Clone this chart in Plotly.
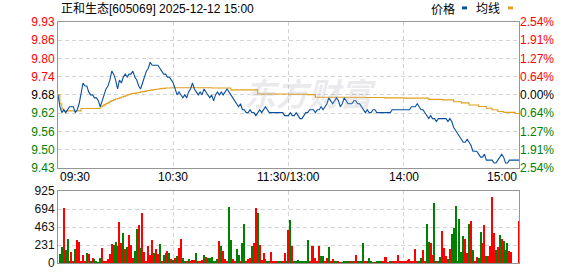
import plotly.graph_objects as go

# ---------------- data ----------------
title_text = "正和生态[605069] 2025-12-12 15:00"
prev_close = 9.68
max_pct = 2.54

price_tick_labels = ["9.43", "9.50", "9.56", "9.62", "9.68", "9.74", "9.80", "9.86", "9.93"]
pct_tick_labels = ["2.54%", "1.91%", "1.27%", "0.64%", "0.00%", "0.64%", "1.27%", "1.91%", "2.54%"]
pct_tick_steps = [-4, -3, -2, -1, 0, 1, 2, 3, 4]
vol_tick_vals = [0, 231, 463, 694, 925]
vol_max = 925
time_tick_minutes = [0, 60, 120, 180, 240]
time_tick_labels = ["09:30", "10:30", "11:30/13:00", "14:00", "15:00"]

price = [
    9.68, 9.64, 9.62, 9.63, 9.62, 9.63, 9.64, 9.64, 9.64, 9.62,
    9.63, 9.65, 9.69, 9.72, 9.71, 9.71, 9.69, 9.68, 9.68, 9.67,
    9.67, 9.66, 9.64, 9.66, 9.68, 9.70, 9.71, 9.73, 9.76, 9.75,
    9.73, 9.70, 9.73, 9.72, 9.74, 9.75, 9.74, 9.75, 9.75, 9.76,
    9.74, 9.73, 9.71, 9.70, 9.72, 9.74, 9.76, 9.77, 9.79, 9.78,
    9.78, 9.78, 9.78, 9.77, 9.76, 9.75, 9.75, 9.74, 9.74, 9.73,
    9.72, 9.70, 9.68, 9.69, 9.68, 9.67, 9.68, 9.67, 9.69, 9.70,
    9.72, 9.70, 9.69, 9.68, 9.69, 9.68, 9.70, 9.69, 9.68, 9.67,
    9.68, 9.66, 9.68, 9.69, 9.68, 9.69, 9.68, 9.69, 9.70, 9.69,
    9.68, 9.67, 9.66, 9.65, 9.64, 9.65, 9.63, 9.63, 9.62, 9.62,
    9.63, 9.62, 9.62, 9.61, 9.62, 9.63, 9.62, 9.63, 9.64, 9.63,
    9.62, 9.62, 9.62, 9.62, 9.62, 9.62, 9.62, 9.62, 9.61, 9.61,
    9.61, 9.62, 9.61, 9.61, 9.62, 9.61, 9.60, 9.60, 9.61, 9.62,
    9.62, 9.63, 9.63, 9.63, 9.62, 9.63, 9.63, 9.64, 9.63, 9.64,
    9.65, 9.67, 9.66, 9.65, 9.66, 9.67, 9.66, 9.64, 9.65, 9.67,
    9.66, 9.65, 9.65, 9.65, 9.66, 9.66, 9.65, 9.65, 9.64, 9.63,
    9.62, 9.63, 9.62, 9.62, 9.63, 9.63, 9.62, 9.62, 9.62, 9.62,
    9.62, 9.62, 9.62, 9.62, 9.63, 9.63, 9.63, 9.63, 9.63, 9.63,
    9.63, 9.63, 9.63, 9.63, 9.64, 9.64, 9.64, 9.65, 9.64, 9.63,
    9.63, 9.62, 9.61, 9.60, 9.61, 9.60, 9.60, 9.59, 9.60, 9.60,
    9.60, 9.60, 9.60, 9.59, 9.60, 9.59, 9.57, 9.56, 9.55, 9.54,
    9.53, 9.52, 9.52, 9.53, 9.52, 9.51, 9.49, 9.49, 9.49, 9.48,
    9.47, 9.47, 9.48, 9.46, 9.46, 9.46, 9.46, 9.45, 9.45, 9.46,
    9.47, 9.48, 9.47, 9.45, 9.45, 9.46, 9.46, 9.46, 9.46, 9.46,
    9.46,
]

avg_price = [
    9.680, 9.650, 9.632, 9.626, 9.626, 9.626, 9.626, 9.626, 9.626, 9.626,
    9.626, 9.626, 9.634, 9.634, 9.634, 9.634, 9.634, 9.634, 9.634, 9.634,
    9.634, 9.634, 9.640, 9.643, 9.647, 9.651, 9.654, 9.658, 9.661, 9.664,
    9.666, 9.668, 9.670, 9.673, 9.675, 9.677, 9.680, 9.682, 9.684, 9.685,
    9.686, 9.687, 9.688, 9.690, 9.691, 9.692, 9.694, 9.695, 9.696, 9.697,
    9.698, 9.699, 9.700, 9.701, 9.702, 9.702, 9.703, 9.703, 9.703, 9.704,
    9.704, 9.704, 9.704, 9.704, 9.704, 9.704, 9.704, 9.704, 9.704, 9.704,
    9.704, 9.704, 9.704, 9.704, 9.704, 9.704, 9.704, 9.704, 9.704, 9.704,
    9.703, 9.703, 9.703, 9.703, 9.703, 9.703, 9.703, 9.703, 9.703, 9.703,
    9.697, 9.697, 9.697, 9.697, 9.697, 9.697, 9.697, 9.697, 9.697, 9.697,
    9.697, 9.697, 9.697, 9.697, 9.683, 9.683, 9.683, 9.683, 9.683, 9.683,
    9.683, 9.683, 9.683, 9.683, 9.683, 9.683, 9.683, 9.683, 9.683, 9.683,
    9.682, 9.682, 9.682, 9.682, 9.682, 9.682, 9.682, 9.682, 9.682, 9.682,
    9.681, 9.681, 9.681, 9.681, 9.672, 9.672, 9.672, 9.672, 9.672, 9.672,
    9.672, 9.672, 9.672, 9.672, 9.672, 9.672, 9.672, 9.672, 9.672, 9.672,
    9.672, 9.672, 9.672, 9.672, 9.672, 9.672, 9.672, 9.672, 9.672, 9.672,
    9.671, 9.671, 9.671, 9.671, 9.671, 9.671, 9.671, 9.671, 9.671, 9.671,
    9.670, 9.670, 9.670, 9.670, 9.670, 9.670, 9.670, 9.670, 9.670, 9.670,
    9.669, 9.669, 9.669, 9.669, 9.669, 9.669, 9.669, 9.669, 9.669, 9.669,
    9.669, 9.669, 9.669, 9.665, 9.665, 9.665, 9.665, 9.665, 9.665, 9.665,
    9.663, 9.663, 9.663, 9.663, 9.663, 9.663, 9.657, 9.657, 9.657, 9.657,
    9.653, 9.653, 9.653, 9.653, 9.646, 9.646, 9.646, 9.646, 9.646, 9.641,
    9.641, 9.641, 9.641, 9.635, 9.635, 9.635, 9.630, 9.630, 9.630, 9.624,
    9.624, 9.624, 9.621, 9.621, 9.621, 9.621, 9.621, 9.621, 9.617, 9.617,
    9.617,
]

volume = [
    0, 117, 200, 700, 167, 312, 25, 137, 25, 175,
    300, 275, 12, 108, 12, 125, 112, 25, 67, 50,
    15, 10, 62, 187, 12, 25, 50, 112, 237, 225,
    275, 212, 525, 262, 387, 175, 200, 362, 225, 62,
    150, 437, 487, 187, 637, 137, 12, 212, 100, 300,
    125, 175, 112, 237, 25, 100, 125, 150, 125, 50,
    37, 62, 87, 187, 312, 62, 12, 12, 50, 12,
    37, 37, 125, 15, 25, 37, 100, 75, 62, 62,
    75, 12, 12, 50, 287, 212, 150, 50, 12, 725,
    300, 50, 12, 175, 100, 12, 250, 500, 12, 50,
    62, 212, 262, 700, 637, 225, 37, 125, 50, 12,
    12, 137, 25, 12, 25, 12, 12, 12, 125, 12,
    425, 550, 212, 12, 12, 37, 25, 12, 12, 25,
    300, 12, 212, 212, 62, 12, 212, 87, 87, 12,
    62, 200, 12, 50, 12, 12, 25, 8, 8, 12,
    12, 25, 12, 12, 12, 100, 12, 12, 12, 262,
    12, 12, 62, 12, 8, 5, 12, 12, 12, 12,
    75, 75, 5, 12, 12, 12, 12, 100, 12, 12,
    12, 12, 37, 50, 12, 12, 175, 12, 12, 62,
    162, 12, 500, 275, 262, 100, 775, 12, 12, 75,
    412, 187, 87, 50, 175, 375, 450, 737, 25, 562,
    137, 350, 312, 125, 500, 537, 162, 12, 75, 62,
    400, 262, 487, 87, 87, 212, 850, 387, 162, 200,
    362, 312, 287, 162, 262, 150, 137, 0, 0, 0,
    537,
]

# r = up (red), g = down (green)
volume_dir = (
    "rggrggrrrg"
    "rrrrrgrgrg"
    "gggrrrrrrg"
    "ggrrgrgrrr"
    "ggrgrrrrrr"
    "grrgrgrrgr"
    "grgrrggrgr"
    "rrgrrrgrgg"
    "grggrgrrrg"
    "grrggrggrr"
    "rgrrgrrrrg"
    "grrrrggrrg"
    "rgrgggggg"
    "ggrgrrrrggr"
    "rgrrggrrgg"
    "ggrgrrgrgg"
    "rrgggrgggr"
    "rrrgrrrrrr"
    "rrrrrrrrgg"
    "rrggrrgrgg"
    "rrrgrgggrg"
    "ggrrgrgrrg"
    "grrgrrrrgr"
    "grgggrrrrrr"
)

# ---------------- styles ----------------
RED = "#ff0000"
GREEN = "#008000"
BLUE = "#0a4fa0"
ORANGE = "#e0a01e"
GRID = "#d4d4d4"
FRAME = "#969696"
FONT = "Liberation Sans, Arial, Noto Sans CJK SC, sans-serif"

W, H = 578, 276
ml, mr, mt, mb = 58, 59, 22, 6
plot_h = H - mt - mb
main_bottom_px, vol_top_px = 172, 196


def py(p):
    return (H - mb - p) / plot_h


minutes = list(range(len(price)))
lo = prev_close * (1 - max_pct / 100)
hi = prev_close * (1 + max_pct / 100)
step = (hi - prev_close) / 4
price_tick_vals = [prev_close + k * step for k in pct_tick_steps]


def colour_for(k):
    return RED if k > 0 else (GREEN if k < 0 else "#000000")


left_text = [f'<span style="color:{colour_for(k)}">{t}</span>'
             for k, t in zip(pct_tick_steps, price_tick_labels)]
right_text = [f'<span style="color:{colour_for(k)}">{t}</span>'
              for k, t in zip(pct_tick_steps, pct_tick_labels)]
vol_colors = [RED if d == "r" else GREEN for d in volume_dir]

fig = go.Figure()
fig.add_trace(go.Bar(x=minutes, y=volume, marker=dict(color=vol_colors, line=dict(width=0)),
                     width=0.55, xaxis="x2", yaxis="y3", hoverinfo="skip"))
fig.add_trace(go.Scatter(x=minutes, y=avg_price, mode="lines",
                         line=dict(color=ORANGE, width=1.1, shape="hv"),
                         xaxis="x", yaxis="y", hoverinfo="skip"))
fig.add_trace(go.Scatter(x=minutes, y=price, mode="lines",
                         line=dict(color=BLUE, width=1.1),
                         xaxis="x", yaxis="y", hoverinfo="skip"))
fig.add_trace(go.Scatter(x=minutes, y=price, mode="lines", opacity=0,
                         line=dict(width=0), xaxis="x", yaxis="y2", hoverinfo="skip"))

axis_common = dict(showline=True, mirror=True, linecolor=FRAME, linewidth=1,
                   gridcolor=GRID, griddash="4px,3px", gridwidth=1, zeroline=False,
                   ticks="", fixedrange=True)

fig.update_layout(
    width=W, height=H,
    margin=dict(l=ml, r=mr, t=mt, b=mb, pad=0),
    paper_bgcolor="white", plot_bgcolor="white",
    showlegend=False,
    font=dict(family=FONT, size=12, color="#000000"),
    bargap=0,
    xaxis=dict(domain=[0, 1], anchor="y", range=[0, 240], tickvals=time_tick_minutes[1:-1],
               showticklabels=False, **axis_common),
    yaxis=dict(domain=[py(main_bottom_px), 1], range=[lo, hi], tickvals=price_tick_vals,
               ticktext=left_text, tickfont=dict(size=12), **axis_common),
    yaxis2=dict(overlaying="y", side="right", range=[lo, hi], tickvals=price_tick_vals,
                ticktext=right_text, showgrid=False, showline=False, zeroline=False,
                ticks="", tickfont=dict(size=12), fixedrange=True),
    xaxis2=dict(domain=[0, 1], anchor="y3", range=[0, 240], tickvals=time_tick_minutes[1:-1],
                showticklabels=False, **axis_common),
    yaxis3=dict(domain=[0, py(vol_top_px)], range=[0, vol_max], tickvals=vol_tick_vals,
                ticktext=[str(v) for v in vol_tick_vals], tickfont=dict(size=12, color="#111"),
                **axis_common),
)

annotations = []
# title
annotations.append(dict(text=title_text, xref="paper", yref="paper", x=0, xshift=1,
                        y=py(9), xanchor="left", yanchor="middle", showarrow=False,
                        font=dict(size=12, color="#000000", family=FONT)))
# legend texts
annotations.append(dict(text="价格", xref="paper", yref="paper", x=(443 - ml) / 461,
                        y=py(9), xanchor="center", yanchor="middle", showarrow=False,
                        font=dict(size=12, color="#000000", family=FONT)))
annotations.append(dict(text="均线", xref="paper", yref="paper", x=(488 - ml) / 461,
                        y=py(9), xanchor="center", yanchor="middle", showarrow=False,
                        font=dict(size=12, color="#000000", family=FONT)))
# watermark
annotations.append(dict(text="<b><i>东方财富</i></b>", xref="paper", yref="paper",
                        x=(310 - ml) / 461, y=py(94), xanchor="center", yanchor="middle",
                        showarrow=False,
                        font=dict(size=32, color="rgba(160,160,175,0.22)",
                                  family="Noto Sans CJK SC")))
# time labels
anchors = ["left", "center", "center", "center", "right"]
for m, t, a in zip(time_tick_minutes, time_tick_labels, anchors):
    annotations.append(dict(text=t, xref="x", yref="paper", x=m, y=py(182),
                            xanchor=a, yanchor="middle", showarrow=False,
                            font=dict(size=12, color="#000000", family=FONT)))
fig.update_layout(annotations=annotations)

# legend swatches
fig.add_shape(type="rect", xref="paper", yref="paper",
              x0=(462 - ml) / 461, x1=(467 - ml) / 461, y0=py(9), y1=py(6),
              fillcolor=BLUE, line=dict(width=0))
fig.add_shape(type="rect", xref="paper", yref="paper",
              x0=(508 - ml) / 461, x1=(513 - ml) / 461, y0=py(9), y1=py(6),
              fillcolor=ORANGE, line=dict(width=0))

assert len(price) == 241 and len(avg_price) == 241 and len(volume) == 241
assert len(volume_dir) == 241, len(volume_dir)

fig.write_html("out.html")
